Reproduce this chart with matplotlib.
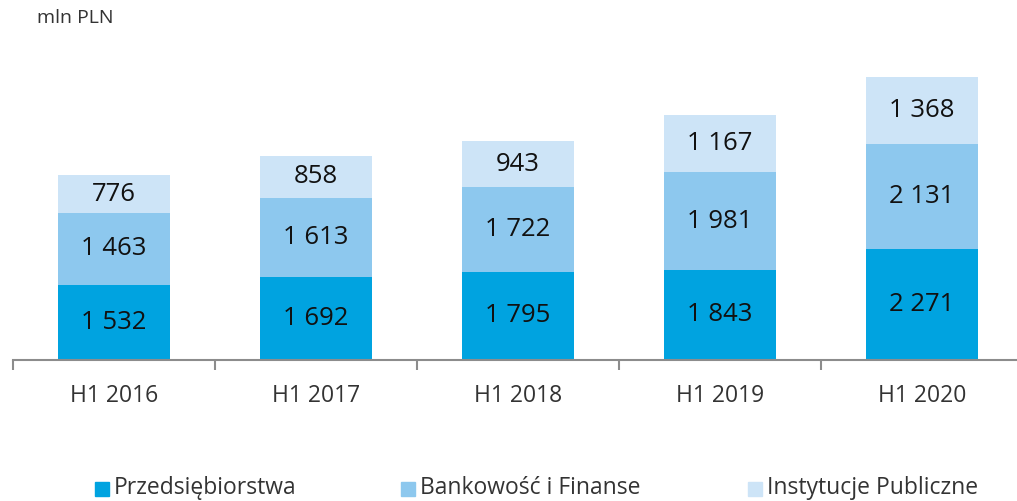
import numpy as np
import matplotlib.pyplot as plt
from matplotlib.patches import Rectangle
from matplotlib.transforms import blended_transform_factory

# data (mln PLN)
periods = ['H1 2016', 'H1 2017', 'H1 2018', 'H1 2019', 'H1 2020']
series_names = ['Przedsiębiorstwa', 'Bankowość i Finanse', 'Instytucje Publiczne']
przedsiebiorstwa = [1532, 1692, 1795, 1843, 2271]
bankowosc = [1463, 1613, 1722, 1981, 2131]
instytucje = [776, 858, 943, 1167, 1368]

colors = ['#00a3e0', '#8dc8ee', '#cde4f7']

plt.rcParams['font.family'] = ['Open Sans', 'DejaVu Sans']

W, H = 1017, 501
fig = plt.figure(figsize=(W / 100, H / 100), dpi=100)
# axis spans pixel 13..1023 horizontally, baseline at y=360
ax = fig.add_axes([13 / W, (H - 360) / H, 1010 / W, 294.3 / H])
ax.set_xlim(-0.5, 4.5)
ax.set_ylim(0, 6000)

x = np.arange(len(periods))
bottom = np.zeros(len(periods))
for vals, col in zip([przedsiebiorstwa, bankowosc, instytucje], colors):
    vals = np.array(vals)
    ax.bar(x, vals, width=0.555, bottom=bottom, color=col, linewidth=0)
    for xi, b, v in zip(x, bottom, vals):
        label = f'{v:,}'.replace(',', ' ')
        ax.text(xi, b + v / 2, label, ha='center', va='center',
                fontsize=18.5, color='#111111')
    bottom += vals

for s in ['top', 'right', 'left']:
    ax.spines[s].set_visible(False)
ax.spines['bottom'].set_color('#8c8c8c')
ax.spines['bottom'].set_linewidth(1.5)
ax.set_yticks([])
ax.set_xticks(np.arange(-0.5, 5, 1))
ax.set_xticklabels([])
ax.tick_params(axis='x', length=7, width=1.5, color='#8c8c8c', direction='out')

# category labels, 37 px below the baseline
trans = blended_transform_factory(ax.transData, fig.transFigure)
for xi, p in zip(x, periods):
    ax.text(xi, 1 - 396 / H, p, ha='center', va='center', fontsize=16.5,
            color='#333333', transform=trans)

# unit label
fig.text(37 / W, 1 - 18 / H, 'mln PLN', ha='left', va='center',
         fontsize=14, color='#333333')

# legend, drawn manually to match spacing
leg_x = [95, 401, 748]
for lx, name, col in zip(leg_x, series_names, colors):
    fig.patches.append(Rectangle((lx / W, 1 - 496 / H), 14 / W, 14 / H,
                                 transform=fig.transFigure, color=col))
    fig.text((lx + 19) / W, 1 - 488 / H, name, ha='left', va='center',
             fontsize=16.5, color='#333333')

fig.savefig('out.png', dpi=100)
